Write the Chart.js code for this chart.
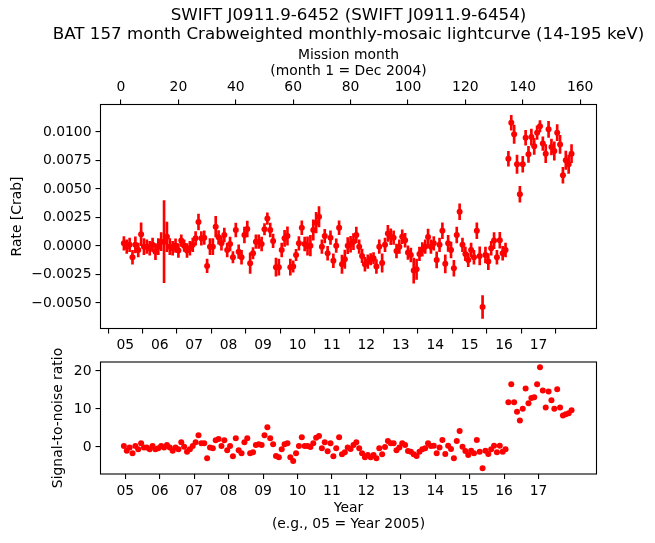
<!DOCTYPE html>
<html>
<head>
<meta charset="utf-8">
<script src="https://cdn.jsdelivr.net/npm/chart.js@4.4.1/dist/chart.umd.min.js"></script>
<style>
  html, body { margin: 0; padding: 0; background: #fff; }
  #page { position: relative; width: 655px; height: 543px; font-family: "DejaVu Sans", sans-serif; }
  #title { position: absolute; left: 348.5px; top: 5px; transform: translateX(-50%); white-space: nowrap;
           text-align: center; font-size: 16.7px; line-height: 19px; color: #000; }
  #top { position: absolute; left: 0; top: 0; width: 655px; height: 350px; }
  #bottom { position: absolute; left: 0; top: 340px; width: 655px; height: 203px; }
</style>
</head>
<body>
<div id="page">
  <div id="top"><canvas id="rateChart"></canvas></div>
  <div id="bottom"><canvas id="snrChart"></canvas></div>
  <div id="title">SWIFT J0911.9-6452 (SWIFT J0911.9-6454)<br>BAT 157 month Crabweighted monthly-mosaic lightcurve (14-195 keV)</div>
</div>
<script>
// monthly rate [Crab], month 1 = Dec 2004
const rate = [
  0.00023, -0.00006, 0.0001, -0.00099, 0.0001, -0.00035, 0.00102, -0.00006, -0.00006, -0.0002,
  0.0001, -0.0005, -0.00006, 0.00038, 0.00038, 0.0008, -0.00006, -0.0002, 0.00003, -0.0004,
  0.00047, 0.00003, -0.0004, -0.0002, 0.0001, 0.00067, 0.0021, 0.00067, 0.00073, -0.00175,
  -0.00006, -0.00006, 0.00169, 0.00076, 0.00023, 0.00096, -0.00035, 0.00017, -0.00099, 0.0014,
  -0.0005, -0.00099, 0.00096, 0.00149, -0.00151, -0.00064, 0.00038, 0.00038, 0.00017, 0.00146,
  0.0024, 0.0014, 0.00044, -0.00186, -0.00186, -0.00035, 0.00067, 0.00087, -0.00186, -0.0018,
  -0.00079, 0.00023, 0.0016, 0.00017, 0.0, 0.00003, 0.0014, 0.00204, 0.00256, -0.00006,
  0.00087, -0.00064, 0.00073, -0.0013, 0.00003, 0.0016, -0.0016, -0.00116, 0.00003, 0.00015,
  0.00038, 0.00096, -0.00006, -0.00087, -0.0016, -0.00137, -0.00116, -0.00108, -0.0018, -0.00006,
  -0.0015, 0.0001, 0.0011, 0.00081, 0.00073, -0.00044, -0.00006, 0.00081, 0.0005, -0.00058,
  -0.00079, -0.00216, -0.00204, -0.0007, -0.0003, -0.00006, 0.00078, -0.00006, 0.00023, -0.00122,
  0.0001, 0.00134, -0.00157, 0.00023, -0.00035, -0.00195, 0.00096, 0.003, 0.0001, -0.0007,
  -0.00122, -0.00035, -0.00099, 0.00134, -0.00087, -0.00536, -0.00079, -0.00137, -0.0002, 0.00047,
  -0.00099, 0.0005, -0.00064, -0.00035, 0.00766, 0.0108, 0.0098, 0.00717, 0.00454, 0.00717,
  0.0095, 0.00804, 0.00955, 0.00874, 0.00994, 0.01051, 0.00898, 0.0081, 0.01023, 0.00868,
  0.00833, 0.00994, 0.00891, 0.0062, 0.00752, 0.00717, 0.0081
];

// 1-sigma errors on the rate
const rateErr = [
  0.0006, 0.0006, 0.0006, 0.0006, 0.0007, 0.0006, 0.0010, 0.0007, 0.0006, 0.0006,
  0.0006, 0.0007, 0.0007, 0.0008, 0.0036, 0.0013, 0.0007, 0.0006, 0.0006, 0.0006,
  0.0005, 0.0005, 0.0006, 0.0006, 0.0006, 0.0006, 0.0007, 0.0006, 0.0006, 0.0006,
  0.0007, 0.0007, 0.0009, 0.0006, 0.0006, 0.0006, 0.0006, 0.0006, 0.0005, 0.0006,
  0.0006, 0.0006, 0.0007, 0.0007, 0.0009, 0.0005, 0.0006, 0.0006, 0.0006, 0.0005,
  0.0005, 0.0006, 0.0006, 0.0008, 0.0007, 0.0006, 0.0007, 0.0008, 0.0007, 0.0005,
  0.0005, 0.0006, 0.0006, 0.0006, 0.0008, 0.0009, 0.0009, 0.0009, 0.0009, 0.0006,
  0.0006, 0.0006, 0.0006, 0.0006, 0.0006, 0.0006, 0.0008, 0.0008, 0.0007, 0.0007,
  0.0007, 0.0007, 0.0006, 0.0006, 0.0006, 0.0006, 0.0005, 0.0005, 0.0006, 0.0006,
  0.0008, 0.0006, 0.0007, 0.0007, 0.0006, 0.0006, 0.0006, 0.0006, 0.0006, 0.0006,
  0.0006, 0.0011, 0.0009, 0.0006, 0.0006, 0.0006, 0.0007, 0.0006, 0.0006, 0.0007,
  0.0006, 0.0007, 0.0008, 0.0007, 0.0007, 0.0007, 0.0007, 0.0007, 0.0006, 0.0006,
  0.0006, 0.0006, 0.0006, 0.0007, 0.0008, 0.0010, 0.0007, 0.0007, 0.0006, 0.0007,
  0.0006, 0.0007, 0.0006, 0.0006, 0.00065, 0.00065, 0.0008, 0.0008, 0.0007, 0.0007,
  0.00065, 0.0007, 0.0007, 0.0007, 0.0006, 0.0005, 0.0006, 0.0008, 0.0007, 0.0007,
  0.0008, 0.0007, 0.0008, 0.0007, 0.0008, 0.0008, 0.0008
];

// signal-to-noise ratio per month
const snr = [
  0.26, -0.96, -0.1, -1.67, 0.26, -0.6, 0.96, -0.1, -0.1, -0.6,
  0.26, -0.6, -0.35, 0.26, -0.1, 0.53, -0.1, -0.96, -0.1, -0.6,
  1.23, 0.08, -1.23, -0.6, 0.26, 1.23, 3.07, 0.96, 0.96, -2.98,
  -0.1, -0.35, 1.75, 2.1, 0.26, 1.75, -0.88, 0.26, -2.46, 2.28,
  -0.88, -1.67, 1.23, 2.28, -1.67, -1.4, 0.53, 0.7, 0.53, 3.07,
  5.17, 2.28, 0.7, -2.37, -2.72, -0.6, 0.7, 0.96, -2.72, -3.68,
  -1.67, 0.26, 2.54, 0.26, 0.26, 0, 0.96, 2.45, 2.89, -0.35,
  1.23, -1.14, 0.96, -2.46, -0.35, 2.54, -1.93, -1.4, -0.1, -0.53,
  0.53, 1.23, -0.35, -1.67, -2.72, -2.1, -2.72, -2.1, -2.98, -0.35,
  -1.93, 0, 1.58, 0.96, 0.96, -0.88, -0.1, 0.96, 0.53, -1.05,
  -1.23, -1.93, -2.37, -1.23, -0.6, -0.35, 0.96, 0.26, 0.35, -1.67,
  -0.1, 1.84, -1.84, 0.35, -0.53, -2.98, 1.58, 4.2, 0.08, -1.05,
  -2.1, -0.96, -1.67, 1.84, -1.23, -5.6, -0.96, -1.84, -0.6, 0.35,
  -1.4, 0.35, -1.23, -0.6, 11.75, 16.5, 11.75, 9.3, 7.0, 10.1,
  15.4, 11.5, 12.9, 13.1, 16.5, 21.0, 14.9, 10.4, 14.6, 12.3,
  10.1, 15.2, 10.4, 8.3, 8.6, 8.9, 9.65
];

const months = rate.map((_, i) => i + 1);
const yearLabels = ['05', '06', '07', '08', '09', '10', '11', '12', '13', '14', '15', '16', '17'];
const monthTicks = [0, 20, 40, 60, 80, 100, 120, 140, 160];
const rateTicks = [-0.005, -0.0025, 0, 0.0025, 0.005, 0.0075, 0.01];
const snrTicks = [0, 10, 20];

// year label position in mission months (Jan 1 of 2005 sits half way into month 1.5)
const yearPos = yearLabels.map((_, k) => 1.5 + 12 * k);

const FONT = { family: 'DejaVu Sans', size: 13.9 };
const X_MIN = -7.15, X_MAX = 165.7;

const frame = {
  id: 'frame',
  afterDatasetsDraw(chart) {
    const a = chart.chartArea, ctx = chart.ctx;
    ctx.save();
    ctx.strokeStyle = '#000';
    ctx.lineWidth = 1.1;
    ctx.strokeRect(a.left, a.top, a.right - a.left, a.bottom - a.top);
    ctx.restore();
  }
};

function tickGrid() {
  return { display: true, drawOnChartArea: false, drawTicks: true, tickLength: 5, color: '#000', lineWidth: 1.1 };
}

function fixed(list) {
  return (s) => { s.ticks = list.map(v => ({ value: v })); };
}

function yearAxis(height, title) {
  return {
    type: 'linear', position: 'bottom', min: X_MIN, max: X_MAX, offset: false,
    grid: tickGrid(), border: { display: false },
    afterBuildTicks: fixed(yearPos),
    ticks: { font: FONT, color: '#000', padding: 4, maxRotation: 0, autoSkip: false,
             callback: (v, i) => yearLabels[i] },
    title: title,
    afterFit: (s) => { s.height = height; }
  };
}

const fmtRate = (v) => (Math.abs(v) < 1e-9 ? '0.0000' : v.toFixed(4).replace('-', '\u2212'));

new Chart(document.getElementById('rateChart'), {
  type: 'scatter',
  data: {
    datasets: [
      {
        type: 'scatter',
        data: months.map((m, i) => ({ x: m, y: rate[i] })),
        backgroundColor: 'red', borderWidth: 0, pointRadius: 3, order: 0
      },
      {
        type: 'bar',
        data: months.map((m, i) => ({ x: m, y: [rate[i] - rateErr[i], rate[i] + rateErr[i]] })),
        backgroundColor: 'red', borderWidth: 0, barThickness: 2, grouped: false, order: 1
      }
    ]
  },
  options: {
    responsive: true, maintainAspectRatio: false, animation: false,
    layout: { padding: { left: 0, right: 58.5, top: 0, bottom: 0 } },
    plugins: { legend: { display: false }, tooltip: { enabled: false }, title: { display: false } },
    scales: {
      x: yearAxis(21.5, { display: false }),
      x2: {
        type: 'linear', position: 'top', min: X_MIN, max: X_MAX, offset: false,
        grid: tickGrid(), border: { display: false },
        afterBuildTicks: fixed(monthTicks),
        ticks: { font: FONT, color: '#000', padding: 4, maxRotation: 0, autoSkip: false },
        title: { display: true, text: ['Mission month', '(month 1 = Dec 2004)'], font: { ...FONT, lineHeight: 1.15 },
                 color: '#000', padding: { top: 47, bottom: 0 } },
        afterFit: (s) => { s.height = 104.5; }
      },
      y: {
        type: 'linear', position: 'left', min: -0.00724, max: 0.01241,
        grid: tickGrid(), border: { display: false },
        afterBuildTicks: fixed(rateTicks),
        ticks: { font: FONT, color: '#000', padding: 4, callback: fmtRate },
        title: { display: true, text: 'Rate [Crab]', font: FONT, color: '#000', padding: { top: 9, bottom: 0 } },
        afterFit: (s) => { s.width = 100.5; }
      }
    }
  },
  plugins: [frame]
});

new Chart(document.getElementById('snrChart'), {
  type: 'scatter',
  data: {
    datasets: [{
      data: months.map((m, i) => ({ x: m, y: snr[i] })),
      backgroundColor: 'red', borderWidth: 0, pointRadius: 3
    }]
  },
  options: {
    responsive: true, maintainAspectRatio: false, animation: false,
    layout: { padding: { left: 0, right: 58.5, top: 22, bottom: 0 } },
    plugins: { legend: { display: false }, tooltip: { enabled: false }, title: { display: false } },
    scales: {
      x: yearAxis(69, { display: true, text: ['Year', '(e.g., 05 = Year 2005)'], font: { ...FONT, lineHeight: 1.15 },
                        color: '#000', padding: { top: 0, bottom: 11 } }),
      y: {
        type: 'linear', position: 'left', min: -7.1, max: 22.37,
        grid: tickGrid(), border: { display: false },
        afterBuildTicks: fixed(snrTicks),
        ticks: { font: FONT, color: '#000', padding: 4 },
        title: { display: true, text: 'Signal-to-noise ratio', font: FONT, color: '#000', padding: { top: 50, bottom: 0 } },
        afterFit: (s) => { s.width = 100.5; }
      }
    }
  },
  plugins: [frame]
});
</script>
</body>
</html>
